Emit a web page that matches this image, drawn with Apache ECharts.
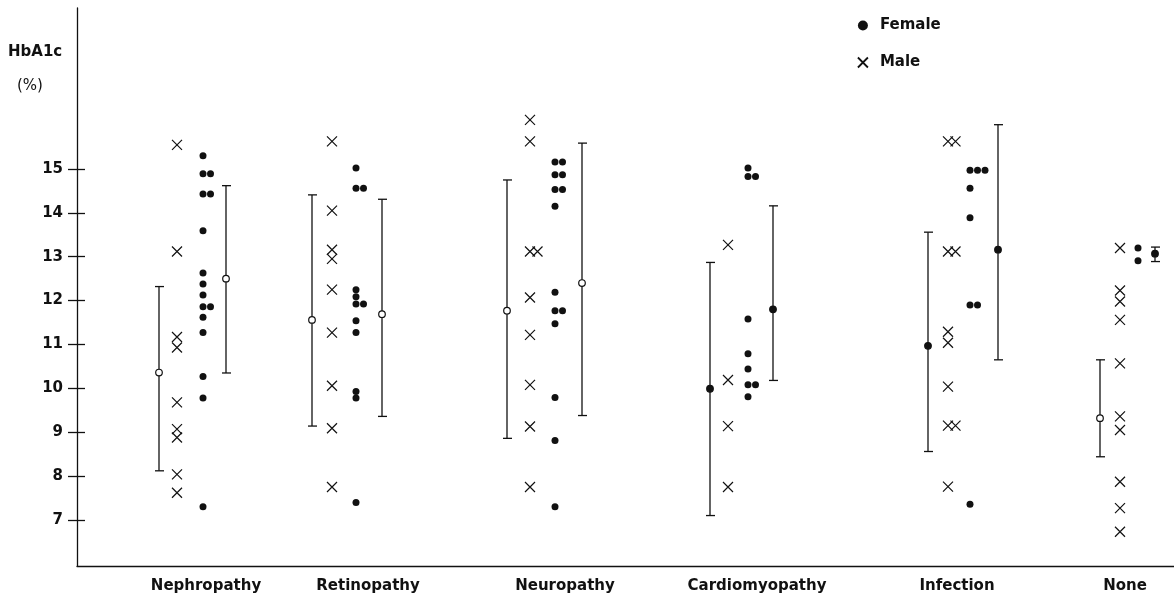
<!DOCTYPE html>
<html>
<head>
<meta charset="utf-8">
<script src="https://cdn.jsdelivr.net/npm/echarts@6/dist/echarts.min.js"></script>
<style>
html,body{margin:0;padding:0;background:#fff;}
#chart{width:1174px;height:599px;}
</style>
</head>
<body>
<div id="chart"></div>
<script>
// ---------- DATA ----------
const categories = ['Nephropathy', 'Retinopathy', 'Neuropathy', 'Cardiomyopathy', 'Infection', 'None'];
const yTicks = [7, 8, 9, 10, 11, 12, 13, 14, 15];

const maleValues = [
  [15.55, 13.12, 11.17, 10.93, 9.68, 9.07, 8.88, 8.04, 7.62],
  [15.63, 14.05, 13.16, 12.95, 12.25, 11.27, 10.06, 9.09, 7.75],
  [16.12, 15.63, 13.12, 13.12, 12.07, 11.22, 10.08, 9.13, 7.75],
  [13.27, 10.19, 9.14, 7.75],
  [15.63, 15.63, 13.12, 13.12, 11.29, 11.04, 10.04, 9.15, 9.15, 7.76],
  [13.20, 12.23, 11.98, 11.56, 10.57, 9.36, 9.05, 7.87, 7.27, 6.73]
];
const femaleValues = [
  [15.30, 14.89, 14.89, 14.43, 14.43, 13.59, 12.63, 12.38, 12.13, 11.86, 11.86, 11.62, 11.27, 10.27, 9.78, 7.30],
  [15.02, 14.56, 14.56, 12.25, 12.09, 11.92, 11.92, 11.54, 11.27, 9.93, 9.78, 7.40],
  [15.16, 15.16, 14.87, 14.87, 14.53, 14.53, 14.15, 12.19, 11.77, 11.77, 11.47, 9.79, 8.81, 7.30],
  [15.02, 14.83, 14.83, 11.58, 10.79, 10.44, 10.08, 10.08, 9.81],
  [14.97, 14.97, 14.97, 14.56, 13.89, 11.90, 11.90, 7.36],
  [13.20, 12.91]
];
const maleMean = [10.36, 11.56, 11.77, 9.99, 10.97, 9.32];
const maleLow = [8.12, 9.14, 8.86, 7.10, 8.56, 8.44];
const maleHigh = [12.32, 14.41, 14.75, 12.87, 13.56, 10.65];
const femaleMean = [12.50, 11.69, 12.40, 11.80, 13.16, 13.07];
const femaleLow = [10.35, 9.36, 9.38, 10.18, 10.65, 12.89];
const femaleHigh = [14.62, 14.31, 15.59, 14.16, 16.01, 13.22];

// ---------- LAYOUT (x positions in axis units) ----------
const layout = {
  maleBar:   [82, 235, 430, 633, 851, 1023],
  maleCol:   [100, 255, 453, 651, 871, 1043],
  femaleCol: [126, 279, 478, 671, 893, 1061],
  femaleBar: [149, 305, 505, 696, 921, 1078],
  label:     [129, 291, 488, 680, 880, 1048],
  dodge: 7.5
};
const meanFilledMale = [false, false, false, true, true, false];
const meanFilledFemale = [false, false, false, true, true, true];

function dodgePoints(groups, cols) {
  const out = [];
  groups.forEach((vals, gi) => {
    const placed = [];
    vals.forEach(v => {
      let k = 0;
      placed.forEach(p => { if (Math.abs(p - v) < 0.1) k++; });
      placed.push(v);
      out.push([cols[gi] + k * layout.dodge, v]);
    });
  });
  return out;
}

const femalePts = dodgePoints(femaleValues, layout.femaleCol);
const malePts = dodgePoints(maleValues, layout.maleCol);

const barData = [];
categories.forEach((c, i) => {
  barData.push([layout.maleBar[i], maleLow[i], maleHigh[i], maleMean[i], meanFilledMale[i] ? 1 : 0]);
  barData.push([layout.femaleBar[i], femaleLow[i], femaleHigh[i], femaleMean[i], meanFilledFemale[i] ? 1 : 0]);
});

const INK = '#111';
const FONT = '"DejaVu Sans", Verdana, sans-serif';
const chart = echarts.init(document.getElementById('chart'));
chart.setOption({
  animation: false,
  backgroundColor: '#fff',
  grid: { left: 77, right: 0, top: 8, bottom: 33, containLabel: false },
  xAxis: {
    type: 'value', min: 0, max: 1097,
    axisLine: { show: true, lineStyle: { color: INK, width: 1.3 } },
    axisTick: { show: false },
    splitLine: { show: false },
    axisLabel: {
      customValues: layout.label,
      formatter: v => { const i = layout.label.indexOf(v); return i >= 0 ? categories[i] : ''; },
      color: INK, fontSize: 15, fontWeight: 'bold', fontFamily: FONT,
      margin: 13
    }
  },
  yAxis: [{
    type: 'value', min: 5.95, max: 18.67,
    axisLine: { show: true, lineStyle: { color: INK, width: 1.3 } },
    axisTick: { show: true, customValues: yTicks, length: 9, lineStyle: { color: INK, width: 1.3 } },
    splitLine: { show: false },
    axisLabel: {
      customValues: yTicks, color: INK, fontSize: 15, fontWeight: 'bold',
      fontFamily: FONT, margin: 14
    }
  }, {
    type: 'value', min: 5.95, max: 18.67, position: 'left',
    axisLine: { show: false },
    axisTick: { show: true, inside: true, customValues: yTicks, length: 8, lineStyle: { color: INK, width: 1.3 } },
    axisLabel: { show: false },
    splitLine: { show: false }
  }],
  legend: {
    orient: 'vertical', left: 857, top: 18, padding: 0, itemGap: 22, itemWidth: 10, itemHeight: 10,
    textStyle: { color: INK, fontSize: 15, fontWeight: 'bold', fontFamily: FONT, padding: [0, 0, 0, 7] },
    data: [
      { name: 'Female', icon: 'circle', itemStyle: { color: INK } },
      { name: 'Male', icon: 'path://M0,0L10,10M10,0L0,10', itemStyle: { color: INK, borderColor: INK, borderWidth: 1.8 } }
    ]
  },
  series: [
    {
      name: 'Error bars', type: 'custom', silent: true,
      data: barData,
      renderItem: (params, api) => {
        const x = api.value(0);
        const top = api.coord([x, api.value(2)]);
        const bot = api.coord([x, api.value(1)]);
        const mid = api.coord([x, api.value(3)]);
        const filled = api.value(4) === 1;
        const ls = { stroke: INK, lineWidth: 1.3 };
        return {
          type: 'group', children: [
            { type: 'line', shape: { x1: top[0], y1: top[1], x2: bot[0], y2: bot[1] }, style: ls },
            { type: 'line', shape: { x1: top[0] - 4, y1: top[1], x2: top[0] + 5, y2: top[1] }, style: ls },
            { type: 'line', shape: { x1: bot[0] - 4, y1: bot[1], x2: bot[0] + 5, y2: bot[1] }, style: ls },
            { type: 'circle', shape: { cx: mid[0], cy: mid[1], r: 3.3 }, style: { fill: filled ? INK : '#fff', stroke: INK, lineWidth: 1.2 } }
          ]
        };
      }
    },
    {
      name: 'Female', type: 'scatter', symbol: 'circle', symbolSize: 7,
      itemStyle: { color: INK, opacity: 1 },
      data: femalePts
    },
    {
      name: 'Male', type: 'scatter', symbol: 'path://M0,0L10,10M10,0L0,10', symbolSize: 10,
      itemStyle: { color: 'rgba(0,0,0,0)', borderColor: INK, borderWidth: 1.2, opacity: 1 },
      data: malePts
    }
  ],
  graphic: [
    { type: 'text', left: 8, top: 45, style: { text: 'HbA1c', fill: INK, font: 'bold 15px ' + FONT } },
    { type: 'text', left: 17, top: 79, style: { text: '(%)', fill: INK, font: '15px ' + FONT } }
  ]
});
</script>
</body>
</html>
